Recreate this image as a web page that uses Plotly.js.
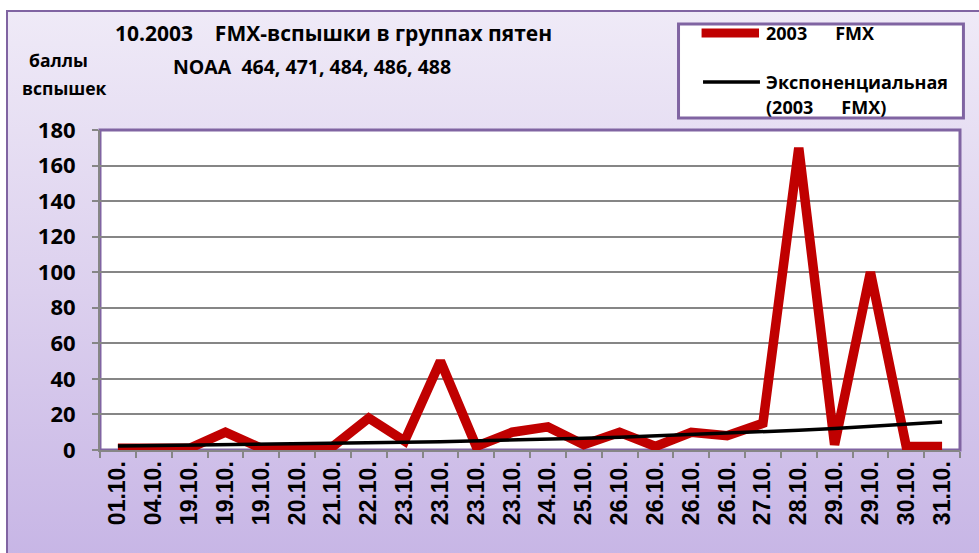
<!DOCTYPE html>
<html>
<head>
<meta charset="utf-8">
<script src="https://cdn.plot.ly/plotly-3.0.1.min.js"></script>
<style>
  html, body { margin:0; padding:0; background:#ffffff; }
  #wrap { position:relative; width:979px; height:553px; overflow:hidden; background:#ffffff; }
  #bg { position:absolute; left:6px; top:10px; width:990px; height:560px;
        border-left:2px solid #8064a2; border-top:2px solid #8064a2;
        background:linear-gradient(to bottom, #efeaf7 0%, #dcd0ee 50%, #c6b4e5 100%); }
  #chart { position:absolute; left:0; top:0; width:979px; height:553px; }
</style>
</head>
<body>
<div id="wrap"><div id="bg"></div><div id="chart"></div></div>
<script>
// category labels (dates)
const dates = ["01.10.","04.10.","19.10.","19.10.","19.10.","20.10.","21.10.","22.10.",
               "23.10.","23.10.","23.10.","23.10.","24.10.","25.10.","26.10.","26.10.",
               "26.10.","26.10.","27.10.","28.10.","29.10.","29.10.","30.10.","31.10."];
// FMX flare scores
const fmx = [1, 1, 1, 10, 1, 1, 2, 18, 5, 50, 2, 10, 13, 3, 10, 2, 10, 8, 15, 170, 3, 100, 2, 2];
// exponential trend line values
const trend = [2.2, 2.4, 2.6, 2.8, 3.1, 3.3, 3.6, 4.0, 4.3, 4.7, 5.1, 5.6, 6.1, 6.6, 7.2, 7.9,
               8.6, 9.4, 10.2, 11.1, 12.1, 13.2, 14.4, 15.7];
const yTicks = [0, 20, 40, 60, 80, 100, 120, 140, 160, 180];
// legend texts
const sp = '\u00A0'.repeat(6);
const nameFmx = '2003' + sp + 'FMX';
const nameTrend = ['Экспоненциальная', '(2003' + sp + 'FMX)'];

const idx = dates.map((d, i) => i);
const bounds = dates.map((d, i) => i - 0.5).concat([dates.length - 0.5]);

const RED = '#c00000', PURPLE = '#8064a2', GRID = '#868686';

const traces = [
  { x: idx, y: fmx, type: 'scatter', mode: 'lines', name: nameFmx,
    line: { color: RED, width: 9.5 }, hoverinfo: 'skip' },
  { x: idx, y: trend, type: 'scatter', mode: 'lines', name: nameTrend.join(' '),
    line: { color: '#000000', width: 3.5 }, hoverinfo: 'skip' }
];

const F = 'Open Sans, Noto Sans, sans-serif';
const bold = (s) => ({ family: F, size: s, color: '#000000', weight: 'bold' });
const note = (text, x, y, size, anchor) => ({
  text, xref: 'paper', yref: 'paper', x, y, xanchor: anchor || 'left', yanchor: 'middle',
  showarrow: false, font: bold(size) });

const layout = {
  width: 979, height: 553,
  margin: { l: 100, r: 19, t: 130, b: 103 },
  paper_bgcolor: 'rgba(0,0,0,0)',
  plot_bgcolor: '#ffffff',
  showlegend: false,
  xaxis: {
    range: [-0.5, dates.length - 0.5],
    tickmode: 'array', tickvals: idx, ticktext: dates, tickangle: -90,
    ticks: '', showgrid: false, zeroline: false,
    showline: true, linecolor: GRID, linewidth: 2,
    tickfont: { family: 'Liberation Sans, Arial, sans-serif', size: 23, color: '#000000', weight: 'bold' },
    minor: { tickmode: 'array', tickvals: bounds, ticks: 'outside', ticklen: 6,
             tickwidth: 2, tickcolor: GRID, showgrid: false },
    fixedrange: true
  },
  yaxis: {
    range: [0, 180], tickmode: 'array', tickvals: yTicks,
    ticks: 'outside', ticklen: 6, tickwidth: 2, tickcolor: GRID,
    showgrid: true, gridcolor: GRID, gridwidth: 2, zeroline: false,
    showline: true, linecolor: GRID, linewidth: 2,
    ticklabelstandoff: 12,
    tickfont: bold(22),
    fixedrange: true
  },
  shapes: [
    { type: 'rect', xref: 'paper', yref: 'paper', x0: 0, x1: 1, y0: 0, y1: 1,
      line: { color: PURPLE, width: 3 }, layer: 'below' },
    // legend box
    { type: 'rect', xref: 'paper', yref: 'paper', x0: 0.6727, x1: 1.004, y0: 1.0375, y1: 1.331,
      line: { color: PURPLE, width: 3 }, fillcolor: '#ffffff', layer: 'above' },
    // legend samples
    { type: 'line', xref: 'paper', yref: 'paper', x0: 0.6995, x1: 0.7663, y0: 1.3031, y1: 1.3031,
      line: { color: RED, width: 9 } },
    { type: 'line', xref: 'paper', yref: 'paper', x0: 0.7012, x1: 0.7674, y0: 1.15, y1: 1.15,
      line: { color: '#000000', width: 3.5 } }
  ],
  annotations: [
    note('10.2003\u00A0\u00A0\u00A0\u00A0FMX-вспышки в группах пятен', 0.272, 1.303, 21, 'center'),
    note('NOAA\u00A0\u00A0464, 471, 484, 486, 488', 0.2465, 1.197, 19.5, 'center'),
    note('баллы', -0.0849, 1.219, 17.5),
    note('вспышек', -0.093, 1.131, 17.5),
    note(nameFmx, 0.7721, 1.303, 18),
    note(nameTrend[0], 0.7721, 1.15, 18),
    note(nameTrend[1], 0.7721, 1.0719, 18)
  ]
};

Plotly.newPlot('chart', traces, layout, { displayModeBar: false, staticPlot: true });
</script>
</body>
</html>
